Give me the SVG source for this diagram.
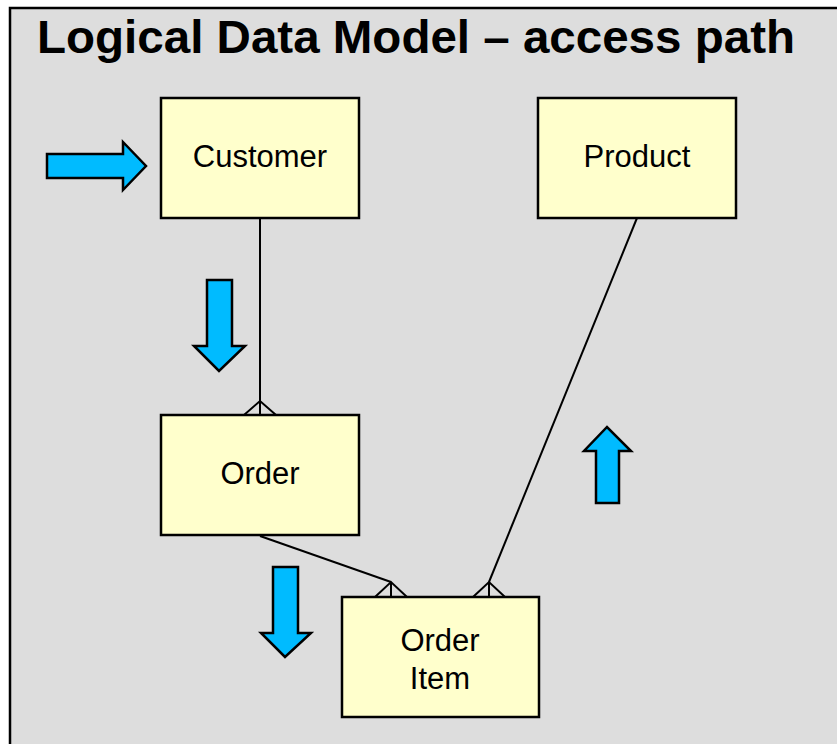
<svg xmlns="http://www.w3.org/2000/svg" width="837" height="744" viewBox="0 0 837 744">
<style>
.box{fill:#FFFFCC;stroke:#000;stroke-width:2.5}
.lbl{font-family:"Liberation Sans",Arial,sans-serif;font-size:31px;fill:#000;text-anchor:middle}
.arr{fill:#00BBFF;stroke:#000;stroke-width:2.5;stroke-linejoin:miter}
.con{fill:none;stroke:#000;stroke-width:2}
</style>
<rect x="0" y="0" width="837" height="744" fill="#fff"/>
<rect x="10" y="8" width="840" height="750" fill="#DDDDDD" stroke="#000" stroke-width="2.5"/>
<text x="37" y="53" font-family="'Liberation Sans',Arial,sans-serif" font-weight="bold" font-size="46" textLength="758" lengthAdjust="spacingAndGlyphs">Logical Data Model – access path</text>
<g id="connectors">
<line class="con" x1="260" y1="218" x2="260" y2="415"/>
<polyline class="con" points="244,415 260,401 276,415"/>
<line class="con" x1="260" y1="536" x2="391" y2="582"/>
<polyline class="con" points="375,597 391,582 407,597"/>
<line class="con" x1="391" y1="582" x2="391" y2="597"/>
<line class="con" x1="637" y1="218" x2="489" y2="582"/>
<polyline class="con" points="473,597 489,582 505,597"/>
<line class="con" x1="489" y1="582" x2="489" y2="597"/>
</g>
<g id="customer">
<rect class="box" x="161" y="98" width="198" height="120"/>
<text class="lbl" x="260" y="167">Customer</text>
</g>
<g id="product">
<rect class="box" x="538" y="98" width="198" height="120"/>
<text class="lbl" x="637" y="167">Product</text>
</g>
<g id="order">
<rect class="box" x="161" y="415" width="198" height="120"/>
<text class="lbl" x="260" y="484">Order</text>
</g>
<g id="order-item">
<rect class="box" x="342" y="597" width="197" height="120"/>
<text class="lbl" x="440" y="651">Order</text>
<text class="lbl" x="440" y="689">Item</text>
</g>
<g id="arrows">
<polygon class="arr" points="47,154 123,154 123,142 146,166 123,190 123,178 47,178"/>
<polygon class="arr" points="207,280 232,280 232,346 245,346 219,371 194,346 207,346"/>
<polygon class="arr" points="273,567 298,567 298,633 311,633 285,657 261,633 273,633"/>
<polygon class="arr" points="596,503 619,503 619,451 631,451 607,427 584,451 596,451"/>
</g>
</svg>
